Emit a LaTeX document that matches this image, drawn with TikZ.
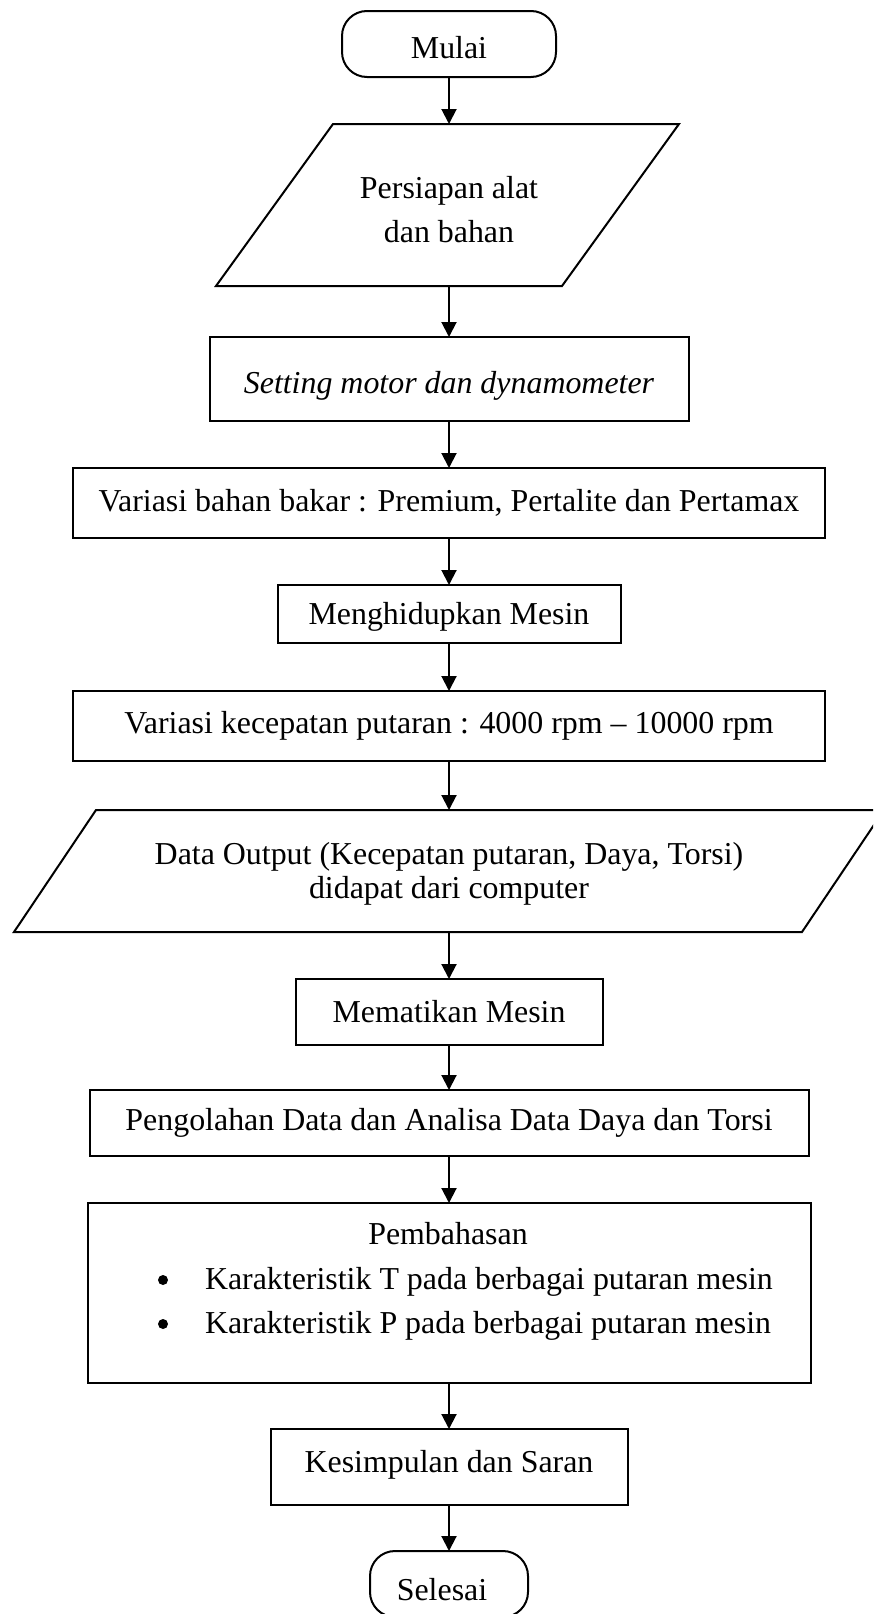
\documentclass[tikz,border=0pt]{standalone}
\usepackage{fontspec}
\setmainfont{Liberation Serif}
\usetikzlibrary{arrows.meta}
\newcommand\lowered[2]{\raisebox{-#1}[\height][\depth]{#2}}
\begin{document}
\begin{tikzpicture}[x=1pt,y=-1pt,
  every node/.style={font=\fontsize{31.9pt}{36pt}\selectfont, outer sep=0pt, inner sep=0pt},
  box/.style={draw, line width=2pt, rectangle},
  term/.style={draw, line width=2pt, rectangle, rounded corners=25pt},
  paratext/.style={rectangle, align=center},
  paraline/.style={line width=2pt, line join=miter},
  bulletdot/.style={circle, fill=black, minimum size=10pt},
  arr/.style={line width=2pt, -{Triangle[length=15pt,width=15pt]}}]
\useasboundingbox (0,0) rectangle (873,1614);
\clip (0,0) rectangle (873,1614);

\node[term, minimum width=214pt, minimum height=66pt] (mulai) at (449,44) {\lowered{4pt}{Mulai}};

\node[paratext, minimum width=346pt, minimum height=162pt, font=\fontsize{31.9pt}{44pt}\selectfont] (p1) at (449,205)
  {\lowered{5pt}{Persiapan alat}\\\lowered{5pt}{dan bahan}};
\draw[paraline] (216,286) -- (333,124) -- (679,124) -- (562,286) -- cycle;

\node[box, minimum width=479pt, minimum height=84pt] (set) at (449,379) {\lowered{7pt}{\itshape Setting motor dan dynamometer}};
\node[box, minimum width=752pt, minimum height=70pt] (vbb) at (449,503) {Variasi bahan bakar : Premium, Pertalite dan Pertamax};
\node[box, minimum width=343pt, minimum height=58pt] (meng) at (449,614) {\lowered{3pt}{Menghidupkan Mesin}};
\node[box, minimum width=752pt, minimum height=70pt] (vkp) at (449,726) {Variasi kecepatan putaran : 4000 rpm – 10000 rpm};

\node[paratext, minimum width=788pt, minimum height=122pt, font=\fontsize{31.9pt}{34pt}\selectfont] (p2) at (449,871)
  {\lowered{3pt}{Data Output (Kecepatan putaran, Daya, Torsi)}\\\lowered{3pt}{didapat dari computer}};
\draw[paraline] (14,932) -- (96,810) -- (884,810) -- (802,932) -- cycle;

\node[box, minimum width=307pt, minimum height=66pt] (mema) at (449,1012) {Mematikan Mesin};
\node[box, minimum width=719pt, minimum height=66pt] (peng) at (449,1123) {Pengolahan Data dan Analisa Data Daya dan Torsi};
\node[box, minimum width=723pt, minimum height=180pt] (pemb) at (449,1293) {};
\node (pembt) at (448,1234) {Pembahasan};
\node[bulletdot] (b1) at (163,1280) {};
\node[anchor=west] (i1) at (205,1282) {Karakteristik T pada berbagai putaran mesin};
\node[bulletdot] (b2) at (163,1324) {};
\node[anchor=west] (i2) at (205,1326) {Karakteristik P pada berbagai putaran mesin};
\node[box, minimum width=357pt, minimum height=76pt] (kes) at (449,1467) {\lowered{-2pt}{Kesimpulan dan Saran}};
\node[term, minimum width=158pt, minimum height=66pt] (sel) at (449,1584) {\lowered{6pt}{Selesai\hspace*{14pt}}};

\draw[arr] (mulai.south) -- (p1.north);
\draw[arr] (p1.south) -- (set.north);
\draw[arr] (set.south) -- (vbb.north);
\draw[arr] (vbb.south) -- (meng.north);
\draw[arr] (meng.south) -- (vkp.north);
\draw[arr] (vkp.south) -- (p2.north);
\draw[arr] (p2.south) -- (mema.north);
\draw[arr] (mema.south) -- (peng.north);
\draw[arr] (peng.south) -- (pemb.north);
\draw[arr] (pemb.south) -- (kes.north);
\draw[arr] (kes.south) -- (sel.north);
\end{tikzpicture}
\end{document}
